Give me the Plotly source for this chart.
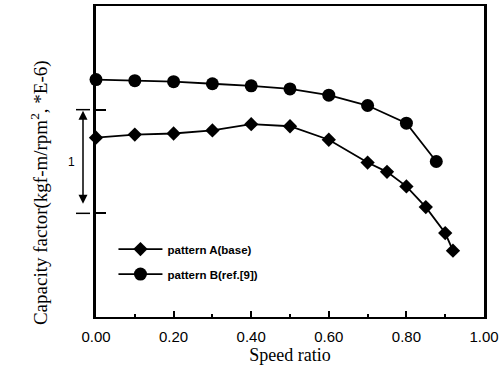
import plotly.graph_objects as go

# Data (y in arbitrary units; scale bar = 1 unit)
xa = [0.0, 0.1, 0.2, 0.3, 0.4, 0.5, 0.6, 0.7, 0.75, 0.8, 0.85, 0.9, 0.92]
ya = [1.73, 1.76, 1.77, 1.80, 1.86, 1.84, 1.71, 1.49, 1.40, 1.26, 1.06, 0.81, 0.64]
xb = [0.0, 0.1, 0.2, 0.3, 0.4, 0.5, 0.6, 0.7, 0.8, 0.877]
yb = [2.29, 2.28, 2.27, 2.25, 2.23, 2.20, 2.14, 2.04, 1.87, 1.50]
name_a = "pattern A(base)"
name_b = "pattern B(ref.[9])"
xticks = [0.0, 0.2, 0.4, 0.6, 0.8, 1.0]
xticklabels = ["0.00", "0.20", "0.40", "0.60", "0.80", "1.00"]
bar_low, bar_high = 1, 2

fig = go.Figure()
fig.add_trace(go.Scatter(x=xa, y=ya, mode="lines+markers", name=name_a,
                         legendgroup="a", cliponaxis=False,
                         line=dict(color="black", width=1.8),
                         marker=dict(symbol="diamond", size=11, color="black")))
fig.add_trace(go.Scatter(x=xb, y=yb, mode="lines+markers", name=name_b,
                         legendgroup="b", cliponaxis=False,
                         line=dict(color="black", width=1.8),
                         marker=dict(symbol="circle", size=13, color="black")))

fig.update_layout(
    width=504, height=370,
    margin=dict(l=96, r=20, t=6, b=53, autoexpand=False),
    paper_bgcolor="white", plot_bgcolor="white",
    showlegend=True,
    legend=dict(x=0.045, y=0.265, xanchor="left", yanchor="top",
                bgcolor="rgba(0,0,0,0)", tracegroupgap=6, itemwidth=44,
                font=dict(family="Liberation Sans", size=11.5, color="black", weight="bold")),
    font=dict(family="Liberation Sans", color="black"),
)
fig.update_xaxes(range=[0, 1], tickvals=xticks, ticktext=xticklabels, automargin=False,
                 ticks="inside", ticklen=6, tickwidth=1.5, tickcolor="black",
                 minor=dict(dtick=0.1, ticks="inside", ticklen=3, tickwidth=1.5, tickcolor="black"),
                 showline=True, linewidth=2, linecolor="black", mirror=True,
                 showgrid=False, zeroline=False,
                 tickfont=dict(family="Liberation Sans", size=15, color="black"),
                 ticklabelstandoff=5,
                 title=dict(text="Speed ratio", standoff=0,
                            font=dict(family="Liberation Serif", size=18, color="black")))
fig.update_yaxes(range=[0, 3], tickvals=[bar_low, bar_high], showticklabels=False, automargin=False,
                 ticks="inside", ticklen=10, tickwidth=1.5, tickcolor="black",
                 showline=True, linewidth=2.5, linecolor="black", mirror=True,
                 showgrid=False, zeroline=False)

# scale bar caps
for yv in [bar_low, bar_high]:
    fig.add_shape(type="line", xref="paper", yref="y", x0=-0.0515, x1=-0.0155,
                  y0=yv, y1=yv, line=dict(color="black", width=1.5))
# double arrow
fig.add_annotation(xref="paper", yref="y", x=-0.0335, y=bar_high,
                   axref="pixel", ayref="y", ax=0, ay=bar_low,
                   text=" ", showarrow=True, arrowhead=2, arrowside="end+start",
                   arrowsize=1.2, arrowwidth=1.5, arrowcolor="black", standoff=1, startstandoff=1)
fig.add_annotation(xref="paper", yref="y", x=-0.078, y=(bar_low + bar_high) / 2,
                   text="1", showarrow=False,
                   font=dict(family="Liberation Sans", size=12, color="black"))
# y title
fig.add_annotation(xref="paper", yref="paper", x=-0.183, y=0.40,
                   text="Capacity factor(kgf-m/rpm<sup>2</sup>, *E-6)", textangle=-90,
                   showarrow=False,
                   font=dict(family="Liberation Serif", size=19, color="black"))

fig.write_html("out.html", config={"displayModeBar": False},
               post_script="document.body.style.margin='0';document.body.style.padding='0';")
